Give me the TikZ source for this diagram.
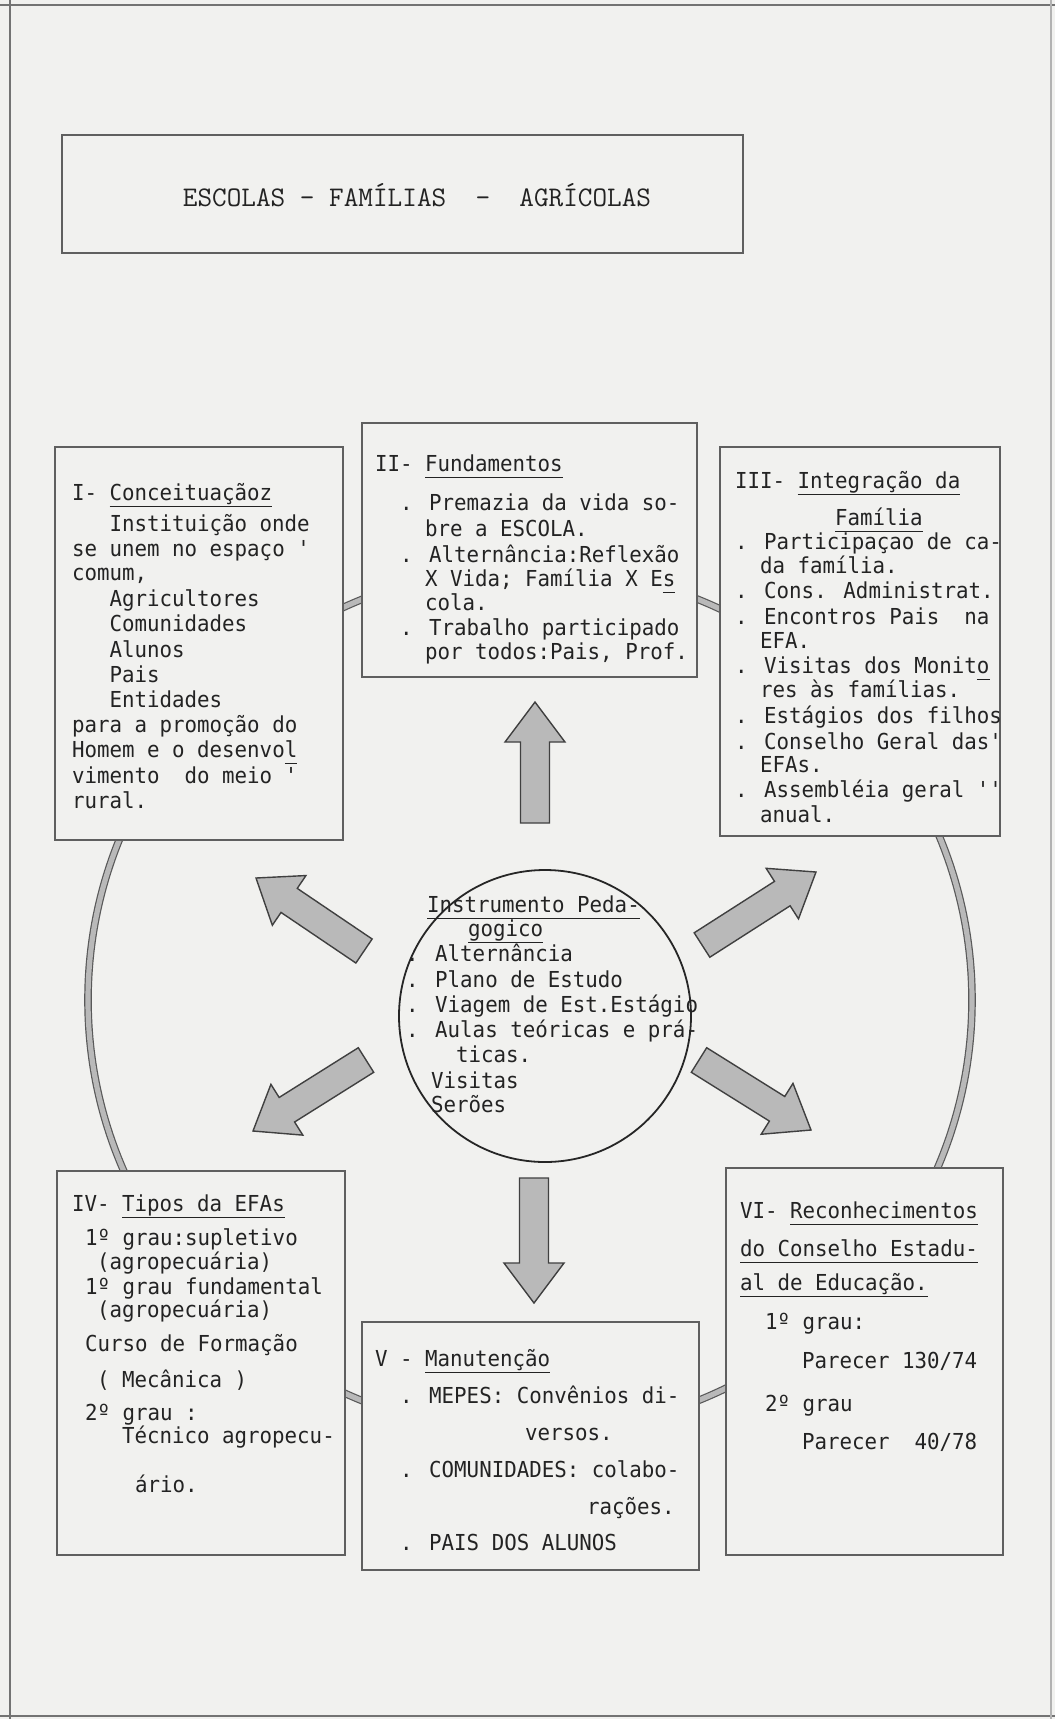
\documentclass[tikz,border=0pt]{standalone}
\usepackage{fontspec}
\usetikzlibrary{calc}
\newfontfamily\twfont[FakeStretch=0.945]{DejaVu Sans Mono}
\newcommand\ulin[1]{\setbox0=\hbox{#1}\rlap{\rule[-3.4pt]{\wd0}{0.75pt}}\box0}
\definecolor{paper}{RGB}{241,241,239}
\definecolor{ink}{RGB}{35,35,35}
\definecolor{edge}{RGB}{95,95,95}
\newcommand\tline[4]{\node[tl] (#1) at (#2,#3) {#4};}
\newcommand\blockarrow[3]{%
  \coordinate (#3) at ($(#2)!20pt!(#1)$);
  \draw[barrow] ($(#1)!7.25pt!90:(#2)$) -- ($(#3)!7.25pt!90:(#2)$) -- ($(#3)!15pt!90:(#2)$) -- (#2)
     -- ($(#3)!15pt!-90:(#2)$) -- ($(#3)!7.25pt!-90:(#2)$) -- ($(#1)!7.25pt!-90:(#2)$) -- cycle;}
\begin{document}
\begin{tikzpicture}[x=0.5pt,y=-0.5pt,
  tl/.style={anchor=mid west, inner sep=0pt, outer sep=0pt, text=ink, font=\twfont\fontsize{11}{13}\selectfont},
  box/.style={draw=edge, line width=1.2pt, fill=paper, rectangle, inner sep=0pt, outer sep=0pt},
  ring/.style={draw=black!65, line width=0.6pt, double=gray!55, double distance=2.6pt},
  barrow/.style={draw=black!75, line width=0.7pt, fill=gray!55, line join=miter},
  pageedge/.style={draw=black!55, line width=1.2pt}]
\fill[paper] (0,0) rectangle (1055,1719);
\useasboundingbox (0,0) rectangle (1055,1719);
% page edges
\draw[pageedge] (0,5) -- (1055,5);
\draw[pageedge] (10,0) -- (10,1719);
\draw[pageedge] (0,1716) -- (1055,1716);
\draw[draw=black!30, line width=0.8pt] (1051,0) -- (1051,1719);
% ring linking the six boxes
\draw[ring] (530,1000) ellipse [x radius=221pt, y radius=216.5pt];
% title
\node[box, minimum width=340.5pt, minimum height=59pt] (tbox) at (402.5,194) {};
\node[font=\ttfamily\fontsize{14.2}{17}\selectfont, text=ink, inner sep=0pt] (title) at (417,195) {ESCOLAS - FAMÍLIAS~~-~~AGRÍCOLAS};
% boxes
\node[box, minimum width=144pt, minimum height=196.5pt] (b1) at (199,643.5) {};
\node[box, minimum width=167.5pt, minimum height=127pt] (b2) at (529.5,550) {};
\node[box, minimum width=140pt, minimum height=194.5pt] (b3) at (860,641.5) {};
\node[box, minimum width=144pt, minimum height=192pt] (b4) at (201,1363) {};
\node[box, minimum width=168.5pt, minimum height=124pt] (b5) at (530.5,1446) {};
\node[box, minimum width=138.5pt, minimum height=193.5pt] (b6) at (864.5,1361.5) {};
\node[circle, draw=black!85, line width=0.9pt, fill=paper, minimum size=146pt, inner sep=0pt] (ctr) at (545,1016) {};
% arrows
\coordinate (upA) at (535,823);  \coordinate (upB) at (535,702);
\coordinate (dnA) at (534,1178); \coordinate (dnB) at (534,1303);
\coordinate (nwA) at (364,951);  \coordinate (nwB) at (256,878);
\coordinate (swA) at (366,1060); \coordinate (swB) at (253,1131);
\coordinate (neA) at (702,945);  \coordinate (neB) at (816,872);
\coordinate (seA) at (699,1060); \coordinate (seB) at (811,1130);
\blockarrow{upA}{upB}{upH}
\blockarrow{dnA}{dnB}{dnH}
\blockarrow{nwA}{nwB}{nwH}
\blockarrow{swA}{swB}{swH}
\blockarrow{neA}{neB}{neH}
\blockarrow{seA}{seB}{seH}
% box I
\tline{t1a}{72}{496}{I- \ulin{Conceituaçãoz}}
\tline{t1b}{109.5}{527}{Instituição onde}
\tline{t1c}{72}{552}{se unem no espaço '}
\tline{t1d}{72}{576}{comum,}
\tline{t1e}{109.5}{602}{Agricultores}
\tline{t1f}{109.5}{627}{Comunidades}
\tline{t1g}{109.5}{653}{Alunos}
\tline{t1h}{109.5}{678}{Pais}
\tline{t1i}{109.5}{703}{Entidades}
\tline{t1j}{72}{728}{para a promoção do}
\tline{t1k}{72}{753}{Homem e o desenvo\ulin{l}}
\tline{t1l}{72}{779}{vimento~~do meio '}
\tline{t1m}{72}{804}{rural.}
% box II
\tline{t2a}{375}{467}{II- \ulin{Fundamentos}}
\tline{t2b}{400}{506}{. Premazia da vida so-}
\tline{t2c}{425}{532}{bre a ESCOLA.}
\tline{t2d}{400}{558}{. Alternância:Reflexão}
\tline{t2e}{425}{582}{X Vida; Família X E\ulin{s}}
\tline{t2f}{425}{606}{cola.}
\tline{t2g}{400}{631}{. Trabalho participado}
\tline{t2h}{425}{655}{por todos:Pais, Prof.}
% box III
\tline{t3a}{735}{484}{III- \ulin{Integração da}}
\tline{t3b}{835}{521}{\ulin{Família}}
\tline{t3c}{735}{545}{. Participaçao de ca-}
\tline{t3d}{760}{569}{da família.}
\tline{t3e}{735}{594}{. Cons. Administrat.}
\tline{t3f}{735}{620}{. Encontros Pais~~na}
\tline{t3g}{760}{644}{EFA.}
\tline{t3h}{735}{669}{. Visitas dos Monit\ulin{o}}
\tline{t3i}{760}{693}{res às famílias.}
\tline{t3j}{735}{719}{. Estágios dos filhos}
\tline{t3k}{735}{745}{. Conselho Geral das'}
\tline{t3l}{760}{768}{EFAs.}
\tline{t3m}{735}{793}{. Assembléia geral ''}
\tline{t3n}{760}{818}{anual.}
% circle
\tline{tca}{427}{908}{\ulin{Instrumento Peda-}}
\tline{tcb}{468}{932}{\ulin{gogico}}
\tline{tcc}{406}{957}{. Alternância}
\tline{tcd}{406}{983}{. Plano de Estudo}
\tline{tce}{406}{1008}{. Viagem de Est.Estágio}
\tline{tcf}{406}{1033}{. Aulas teóricas e prá-}
\tline{tcg}{456}{1058}{ticas.}
\tline{tch}{431}{1084}{Visitas}
\tline{tci}{431}{1108}{Serões}
% box IV
\tline{t4a}{72}{1207}{IV- \ulin{Tipos da EFAs}}
\tline{t4b}{85}{1241}{1º grau:supletivo}
\tline{t4c}{97}{1265}{(agropecuária)}
\tline{t4d}{85}{1290}{1º grau fundamental}
\tline{t4e}{97}{1313}{(agropecuária)}
\tline{t4f}{85}{1347}{Curso de Formação}
\tline{t4g}{97}{1383}{( Mecânica )}
\tline{t4h}{85}{1416}{2º grau :}
\tline{t4i}{122}{1439}{Técnico agropecu-}
\tline{t4j}{135}{1488}{ário.}
% box V
\tline{t5a}{375}{1362}{V - \ulin{Manutenção}}
\tline{t5b}{400}{1399}{. MEPES: Convênios di-}
\tline{t5c}{525}{1436}{versos.}
\tline{t5d}{400}{1473}{. COMUNIDADES: colabo-}
\tline{t5e}{587}{1510}{rações.}
\tline{t5f}{400}{1546}{. PAIS DOS ALUNOS}
% box VI
\tline{t6a}{740}{1214}{VI- \ulin{Reconhecimentos}}
\tline{t6b}{740}{1252}{\ulin{do Conselho Estadu-}}
\tline{t6c}{740}{1286}{\ulin{al de Educação.}}
\tline{t6d}{765}{1325}{1º grau:}
\tline{t6e}{802}{1364}{Parecer 130/74}
\tline{t6f}{765}{1407}{2º grau}
\tline{t6g}{802}{1445}{Parecer~~40/78}
\end{tikzpicture}
\end{document}
